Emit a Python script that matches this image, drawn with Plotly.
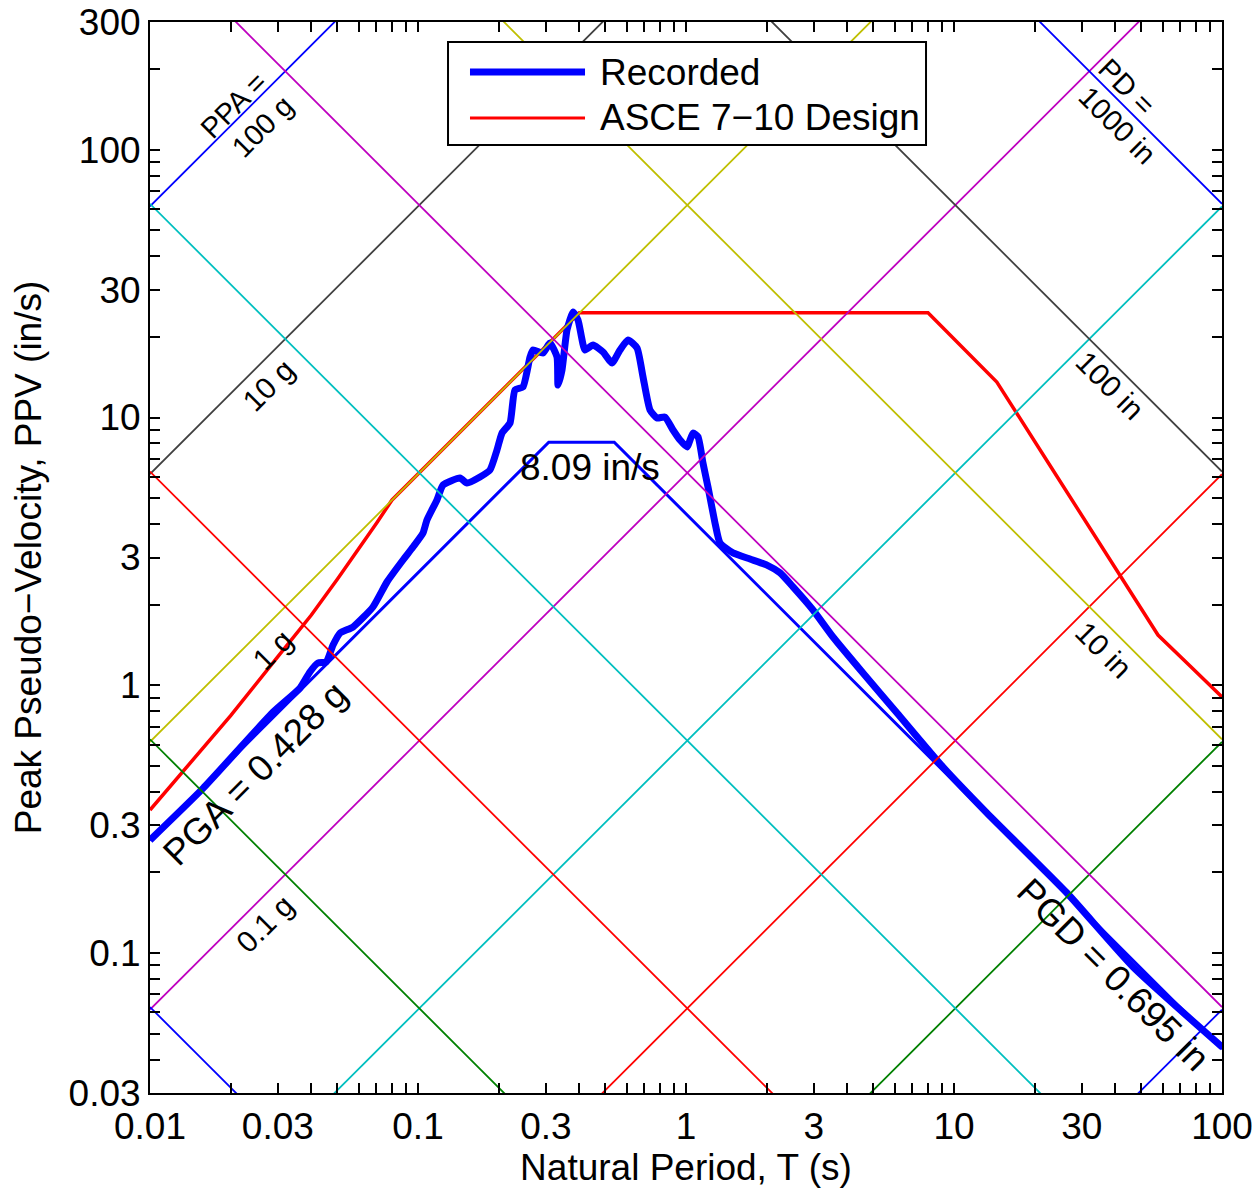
import math
import plotly.graph_objects as go

# ---------------- data ----------------
# Recorded pseudo-velocity response spectrum (period s, PSV in/s)
period_rec = [0.0100, 0.0158, 0.0288, 0.0363, 0.0395, 0.0423, 0.0454, 0.0482, 0.0512, 0.0572,
              0.0679, 0.0766, 0.0879, 0.0958, 0.1044, 0.1080, 0.1177, 0.1240, 0.1434, 0.1524,
              0.1703, 0.1856, 0.1971, 0.2058, 0.2205, 0.2301, 0.2464, 0.2618, 0.2686, 0.2927,
              0.3108, 0.3302, 0.3330, 0.3446, 0.3597, 0.3789, 0.3954, 0.4199, 0.4498, 0.4901,
              0.5296, 0.5672, 0.6076, 0.6566, 0.6913, 0.7339, 0.7794, 0.8348, 0.8944, 0.9497,
              1.0086, 1.062, 1.109, 1.157, 1.208, 1.283, 1.339, 1.497, 1.733, 2.005,
              2.242, 2.508, 2.978, 3.536, 4.575, 6.13, 9.10, 13.28, 26.4, 46.6, 100.0]
psv_rec = [0.264, 0.413, 0.794, 0.977, 1.121, 1.211, 1.221, 1.413, 1.567, 1.650,
           1.960, 2.430, 2.936, 3.283, 3.703, 4.142, 4.920, 5.596, 5.943, 5.692,
           5.995, 6.367, 7.56, 8.75, 9.54, 12.67, 13.0, 16.82, 17.87, 17.41,
           18.98, 16.82, 13.22, 15.05, 21.22, 24.77, 23.13, 17.87, 18.65, 17.56,
           15.97, 17.87, 19.47, 18.18, 14.17, 10.67, 9.96, 10.04, 8.98, 8.24,
           7.76, 8.75, 8.46, 6.76, 5.50, 4.04, 3.40, 3.12, 2.96, 2.81,
           2.63, 2.33, 1.91, 1.514, 1.111, 0.788, 0.495, 0.333, 0.1675, 0.0886, 0.0446]

# ASCE 7-10 design spectrum
period_design = [0.01, 0.02, 0.03, 0.04, 0.05, 0.06, 0.07, 0.08, 0.40, 8.0, 14.45, 22.2,
                 33.0, 42.8, 57.7, 76.0, 100.0]
psv_design = [0.342, 0.77, 1.28, 1.83, 2.49, 3.22, 4.03, 4.92, 24.6, 24.6, 13.57, 6.91,
              3.71, 2.46, 1.54, 1.18, 0.904]

# Peak ground motion envelope (PGA = 0.428 g, PGV = 8.09 in/s, PGD = 0.695 in)
period_env = [0.01, 0.3076, 0.5398, 100.0]
psv_env = [0.263, 8.09, 8.09, 0.0437]

# Tripartite grid constants
accel_levels_g = [1e-5, 1e-4, 1e-3, 0.01, 0.1, 1, 10, 100]
disp_levels_in = [1e-4, 1e-3, 0.01, 0.1, 1, 10, 100, 1000]
grid_colors = ["#0000FF", "#008000", "#FF0000", "#00BFBF", "#BF00BF", "#BFBF00", "#404040", "#0000FF"]
G_IN = 386.09

# Axis ticks
x_ticks = [0.01, 0.03, 0.1, 0.3, 1, 3, 10, 30, 100]
x_ticklabels = ["0.01", "0.03", "0.1", "0.3", "1", "3", "10", "30", "100"]
y_ticks = [0.03, 0.1, 0.3, 1, 3, 10, 30, 100, 300]
y_ticklabels = ["0.03", "0.1", "0.3", "1", "3", "10", "30", "100", "300"]

FONT = "Liberation Sans, Arial, Helvetica, sans-serif"

def all_ticks(lo_dec, hi_dec, lo, hi, labeled, labels):
    vals, texts = [], []
    for d in range(lo_dec, hi_dec + 1):
        for m in range(1, 10):
            v = m * 10 ** d
            if v < lo * 0.999 or v > hi * 1.001:
                continue
            vals.append(v)
            hit = [lab for tv, lab in zip(labeled, labels) if abs(tv - v) / v < 1e-6]
            texts.append(hit[0] if hit else "")
    return vals, texts

xv, xt = all_ticks(-2, 2, 0.01, 100, x_ticks, x_ticklabels)
yv, yt = all_ticks(-2, 2, 0.03, 300, y_ticks, y_ticklabels)

fig = go.Figure()

# data curves (drawn beneath the grid, as in the original)
fig.add_trace(go.Scatter(x=period_design, y=psv_design, mode="lines",
                         line=dict(color="#FF0000", width=3.5), name="ASCE 7\u221210 Design",
                         showlegend=False))
fig.add_trace(go.Scatter(x=period_env, y=psv_env, mode="lines",
                         line=dict(color="#0000FF", width=3), showlegend=False))
fig.add_trace(go.Scatter(x=period_rec, y=psv_rec, mode="lines",
                         line=dict(color="#0000FF", width=7, shape="spline", smoothing=0.5),
                         name="Recorded", showlegend=False))

# tripartite grid lines
T_ends = [0.01, 100.0]
for a, c in zip(accel_levels_g, grid_colors):
    fig.add_trace(go.Scatter(x=T_ends, y=[a * G_IN * t / (2 * math.pi) for t in T_ends],
                             mode="lines", line=dict(color=c, width=1.8),
                             hoverinfo="skip", showlegend=False))
for d, c in zip(disp_levels_in, grid_colors):
    fig.add_trace(go.Scatter(x=T_ends, y=[2 * math.pi * d / t for t in T_ends],
                             mode="lines", line=dict(color=c, width=1.8),
                             hoverinfo="skip", showlegend=False))

# labels (annotation coordinates are log10 values on log axes)
small = dict(family=FONT, size=29, color="black")
mid = dict(family=FONT, size=30, color="black")
big = dict(family=FONT, size=37, color="black")
labels = [
    ("PPA =", -1.6866, 2.1671, -45, small),
    ("100 g", -1.5784, 2.0887, -45, small),
    ("10 g", -1.560, 1.121, -45, mid),
    ("1 g", -1.541, 0.132, -45, mid),
    ("0.1 g", -1.571, -0.888, -45, mid),
    ("PGA = 0.428 g", -1.608, -0.328, -45, big),
    ("8.09 in/s", -0.358, 0.815, 0, big),
    ("PGD = 0.695 in", 1.593, -1.082, 45, big),
    ("PD =", 1.6455, 2.2343, 45, small),
    ("1000 in", 1.6082, 2.0924, 45, small),
    ("100 in", 1.582, 1.118, 45, mid),
    ("10 in", 1.556, 0.132, 45, mid),
]
for txt, lx, ly, ang, f in labels:
    fig.add_annotation(x=lx, y=ly, xref="x", yref="y", text=txt, showarrow=False,
                       textangle=ang, font=f, align="center",
                       xanchor="center", yanchor="middle")

# custom legend (MATLAB style)
fig.add_shape(type="rect", xref="paper", yref="paper", x0=0.278, x1=0.7239, y0=0.8852, y1=0.9813,
              line=dict(color="black", width=2), fillcolor="white", layer="above")
fig.add_shape(type="line", xref="paper", yref="paper", x0=0.2985, x1=0.4058, y0=0.9533, y1=0.9533,
              line=dict(color="#0000FF", width=7), layer="above")
fig.add_shape(type="line", xref="paper", yref="paper", x0=0.2985, x1=0.4058, y0=0.9104, y1=0.9104,
              line=dict(color="#FF0000", width=3), layer="above")
fig.add_annotation(x=0.4179, y=0.9533, xref="paper", yref="paper", text="Recorded",
                   showarrow=False, xanchor="left", yanchor="middle", font=big)
fig.add_annotation(x=0.4179, y=0.9104, xref="paper", yref="paper", text="ASCE 7\u221210 Design",
                   showarrow=False, xanchor="left", yanchor="middle", font=big)

axis_common = dict(type="log", showgrid=False, zeroline=False, showline=True,
                   linecolor="black", linewidth=2, mirror="ticks", ticks="inside",
                   ticklen=10, tickwidth=1.5, tickcolor="black", ticklabeloverflow="allow",
                   tickfont=dict(family=FONT, size=37, color="black"), tickmode="array")

fig.update_xaxes(range=[-2, 2], tickvals=xv, ticktext=xt,
                 title=dict(text="Natural Period, T (s)", font=big, standoff=2),
                 ticklabelstandoff=0, **axis_common)
fig.update_yaxes(range=[math.log10(0.03), math.log10(300)], tickvals=yv, ticktext=yt,
                 title=dict(text="Peak Pseudo\u2212Velocity, PPV (in/s)", font=big, standoff=16),
                 ticklabelstandoff=0, **axis_common)

fig.update_layout(width=1255, height=1192, plot_bgcolor="white", paper_bgcolor="white",
                  margin=dict(l=150, r=33, t=22, b=99, autoexpand=False),
                  showlegend=False, font=dict(family=FONT, color="black"))

# remove the page's default body margin so the figure fills the window exactly
fig.write_html("out.html", config={"displayModeBar": False},
               post_script="document.body.style.margin='0px';document.body.style.overflow='hidden';")
